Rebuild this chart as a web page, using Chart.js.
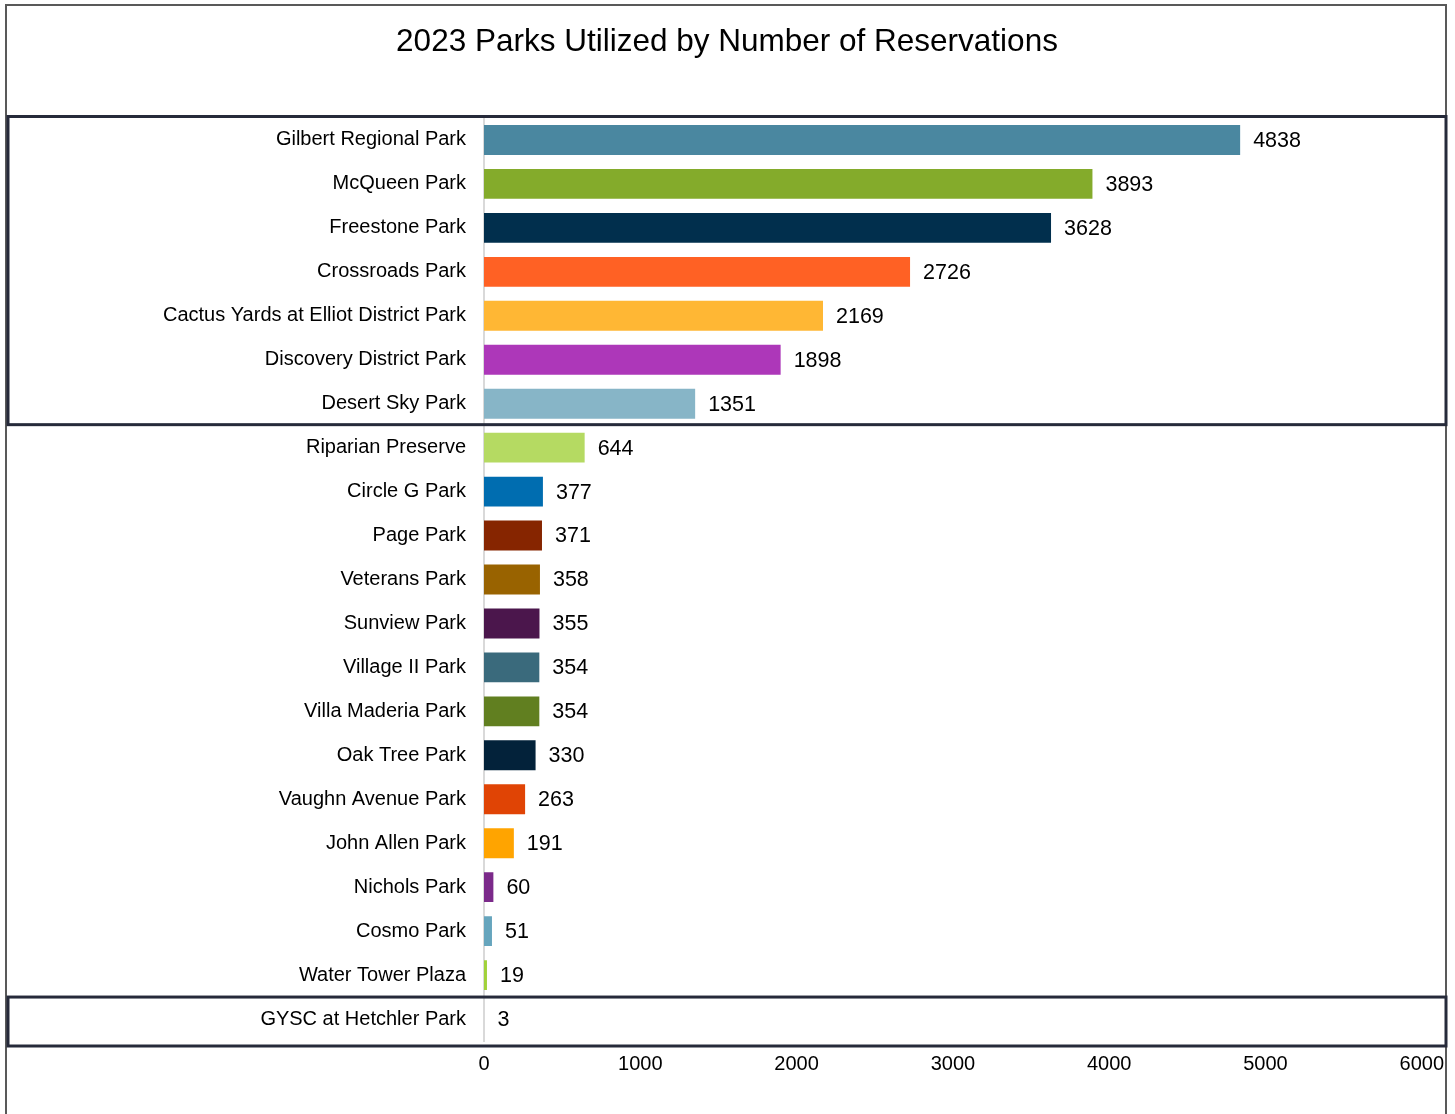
<!DOCTYPE html>
<html>
<head>
<meta charset="utf-8">
<script src="https://cdn.jsdelivr.net/npm/chart.js@4/dist/chart.umd.min.js"></script>
<style>
html,body{margin:0;padding:0;background:#fff;}
#wrap{position:relative;width:1455px;height:1114px;}
</style>
</head>
<body>
<div id="wrap"><canvas id="c" width="1455" height="1114"></canvas></div>
<script>
const titleText = "2023 Parks Utilized by Number of Reservations";
const parks = ["Gilbert Regional Park","McQueen Park","Freestone Park","Crossroads Park","Cactus Yards at Elliot District Park","Discovery District Park","Desert Sky Park","Riparian Preserve","Circle G Park","Page Park","Veterans Park","Sunview Park","Village II Park","Villa Maderia Park","Oak Tree Park","Vaughn Avenue Park","John Allen Park","Nichols Park","Cosmo Park","Water Tower Plaza","GYSC at Hetchler Park"];
const reservations = [4838,3893,3628,2726,2169,1898,1351,644,377,371,358,355,354,354,330,263,191,60,51,19,3];
const barColors = ["#4a87a0","#84ab2b","#012f4d","#ff6124","#ffb734","#ad37b9","#87b5c7","#b5da62","#006db0","#862500","#996300","#4b164c","#3a6a7c","#617f20","#03223a","#e04405","#ffa400","#7b2a8a","#66a5bd","#a1d23a","#d9d9d9"];
const xTicks = [0,1000,2000,3000,4000,5000,6000];

const FONT = "'Liberation Sans', Arial, sans-serif";

const decor = {
  id: 'decor',
  afterDraw(chart) {
    const ctx = chart.ctx;
    const y = chart.scales.y;
    const ca = chart.chartArea;
    const half = (y.getPixelForValue(1) - y.getPixelForValue(0)) / 2;
    // title
    ctx.save();
    ctx.font = "31.5px " + FONT;
    ctx.fillStyle = "#000";
    ctx.textAlign = "center";
    ctx.textBaseline = "middle";
    ctx.fillText(titleText, 727, 42);
    ctx.restore();
    // value labels
    const meta = chart.getDatasetMeta(0);
    ctx.save();
    ctx.font = "21.5px " + FONT;
    ctx.fillStyle = "#000";
    ctx.textBaseline = "middle";
    ctx.textAlign = "left";
    meta.data.forEach((bar, i) => {
      ctx.fillText(String(reservations[i]), bar.x + 13, bar.y + 1);
    });
    ctx.restore();
    // outer border
    ctx.save();
    ctx.strokeStyle = "#595959";
    ctx.lineWidth = 2;
    ctx.strokeRect(6, 5, 1440, 1130);
    // group boxes
    ctx.strokeStyle = "#262a3a";
    ctx.lineWidth = 3;
    const b1top = y.getPixelForValue(0) - half - 1.5;
    const b1bot = y.getPixelForValue(6) + half - 1;
    ctx.strokeRect(8, b1top, 1438, b1bot - b1top);
    const b2top = y.getPixelForValue(19) + half;
    const b2bot = ca.bottom + 5;
    ctx.strokeRect(8, b2top, 1438, b2bot - b2top);
    ctx.restore();
  }
};

new Chart(document.getElementById('c'), {
  type: 'bar',
  data: {
    labels: parks,
    datasets: [{
      data: reservations,
      backgroundColor: barColors,
      borderWidth: 0,
      categoryPercentage: 1,
      barPercentage: 0.68
    }]
  },
  options: {
    indexAxis: 'y',
    responsive: false,
    animation: false,
    devicePixelRatio: 1,
    layout: { padding: { left: 0, right: 30, top: 118, bottom: 0 } },
    plugins: {
      legend: { display: false },
      tooltip: { enabled: false },
      title: { display: false }
    },
    scales: {
      x: {
        min: 0, max: 6000,
        afterBuildTicks(scale) { scale.ticks = xTicks.map(v => ({ value: v })); },
        afterFit(scale) { scale.height = 73; },
        grid: { display: false, drawTicks: false },
        border: { display: false },
        ticks: {
          color: "#000",
          padding: 11,
          maxRotation: 0,
          callback: (v) => String(v),
          font: { family: FONT, size: 20 }
        }
      },
      y: {
        afterFit(scale) { scale.width = 484; },
        grid: { display: false, drawTicks: false },
        border: { display: true, color: "#d9d9d9", width: 2 },
        ticks: {
          color: "#000",
          padding: 18,
          autoSkip: false,
          font: { family: FONT, size: 20 }
        }
      }
    }
  },
  plugins: [decor]
});
</script>
</body>
</html>
